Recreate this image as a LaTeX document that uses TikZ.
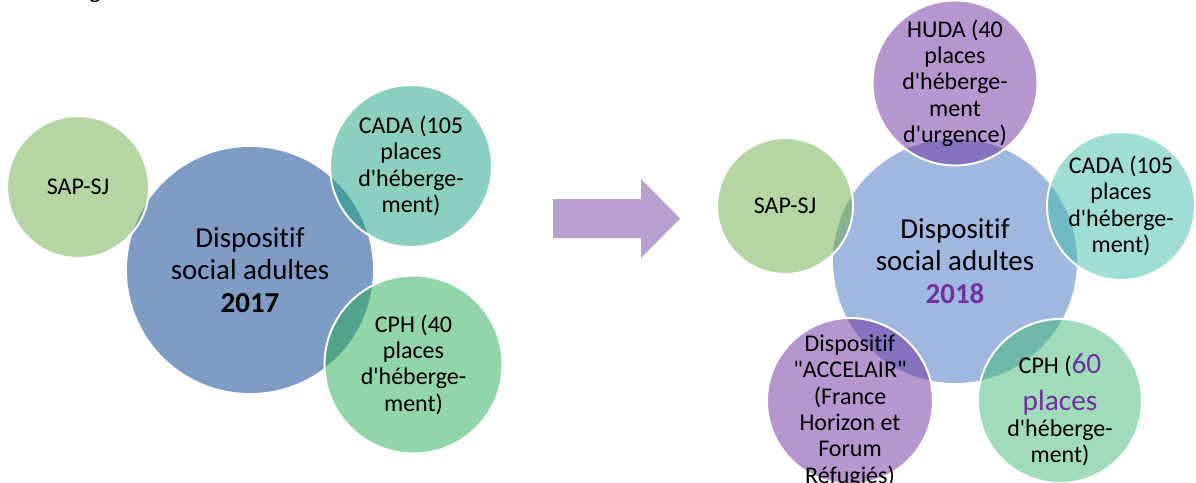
\documentclass[tikz,border=0pt]{standalone}
\usepackage{fontspec}
\setmainfont{Carlito}[Ligatures={TeXOff,NoCommon}]
\usepackage{tikz}

\definecolor{bigold}{HTML}{7F9CC6}
\definecolor{bignew}{HTML}{A0B8E0}
\definecolor{sapgreen}{HTML}{6BAD47}
\definecolor{cadaold}{HTML}{179F81}
\definecolor{cadanew}{HTML}{41BBAB}
\definecolor{cphold}{HTML}{25AB53}
\definecolor{cphnew}{HTML}{41B975}
\definecolor{lilac}{HTML}{6B2D9D}
\definecolor{arrowfill}{HTML}{B9A0D0}
\definecolor{yearpurple}{HTML}{7030A0}

\newcommand{\smalltext}{\fontsize{18}{19.75}\selectfont}
\newcommand{\bigtext}{\fontsize{21.7}{24.3}\selectfont}
\newcommand{\bigpurple}[1]{\textcolor{yearpurple}{\fontsize{22}{24}\selectfont #1}}

\tikzset{
  hub/.style={circle,inner sep=0pt,align=center,font=\bigtext},
  bubble/.style={circle,draw=white,line width=1.5pt,fill opacity=0.5,
    text opacity=1,inner sep=0pt,align=center,font=\smalltext},
  bubbletext/.style={inner sep=0pt,align=center,font=\smalltext}
}

\begin{document}
\begin{tikzpicture}[x=0.75pt,y=-0.75pt]
  \path[use as bounding box,clip] (0,0) rectangle (1196,482);

  \node[font=\smalltext,anchor=base] (cutg) at (95,-1.5) {g};

  % 2017
  \node[hub,fill=bigold,minimum size=184.5pt] (big2017) at (250,270)
    {Dispositif\\social adultes\\\textbf{2017}};
  \node[bubble,fill=sapgreen,minimum size=106.5pt] (sap2017) at (78,187) {SAP-SJ};
  \node[bubble,fill=cadaold,minimum size=121.5pt] (cada2017) at (411,166)
    {CADA (105\\places\\d'héberge-\\ment)};
  \node[bubble,fill=cphold,minimum size=133.5pt] (cph2017) at (413.5,364.5)
    {CPH (40\\places\\d'héberge-\\ment)};

  \fill[arrowfill] (553,199) -- (641,199) -- (641,179) -- (680,218.5)
    -- (641,258) -- (641,238) -- (553,238) -- cycle;

  % 2018
  \node[hub,fill=bignew,minimum size=183pt] (big2018) at (955,261)
    {Dispositif\\social adultes\\\textcolor{yearpurple}{\textbf{2018}}};
  \node[bubble,fill=sapgreen,minimum size=102pt] (sap2018) at (785,206) {SAP-SJ};
  \node[bubble,fill=lilac,minimum size=122pt] (huda2018) at (955,83)
    {HUDA (40\\places\\d'héberge-\\ment\\d'urgence)};
  \node[bubble,fill=cadanew,minimum size=111pt] (cada2018) at (1121,206)
    {CADA (105\\places\\d'héberge-\\ment)};
  \node[bubble,fill=lilac,minimum size=124.5pt] (accel2018) at (850,401) {};
  \node[bubbletext] (acceltext) at (850,411)
    {Dispositif\\"ACCELAIR"\\(France\\Horizon et\\Forum\\Réfugiés)};
  \node[bubble,fill=cphnew,minimum size=123pt] (cph2018) at (1060,401) {};
  \node[bubbletext] (cphtext) at (1060,410)
    {CPH (\bigpurple{60}\\[7.5pt]\bigpurple{places}\\d'héberge-\\ment)};
\end{tikzpicture}
\end{document}
